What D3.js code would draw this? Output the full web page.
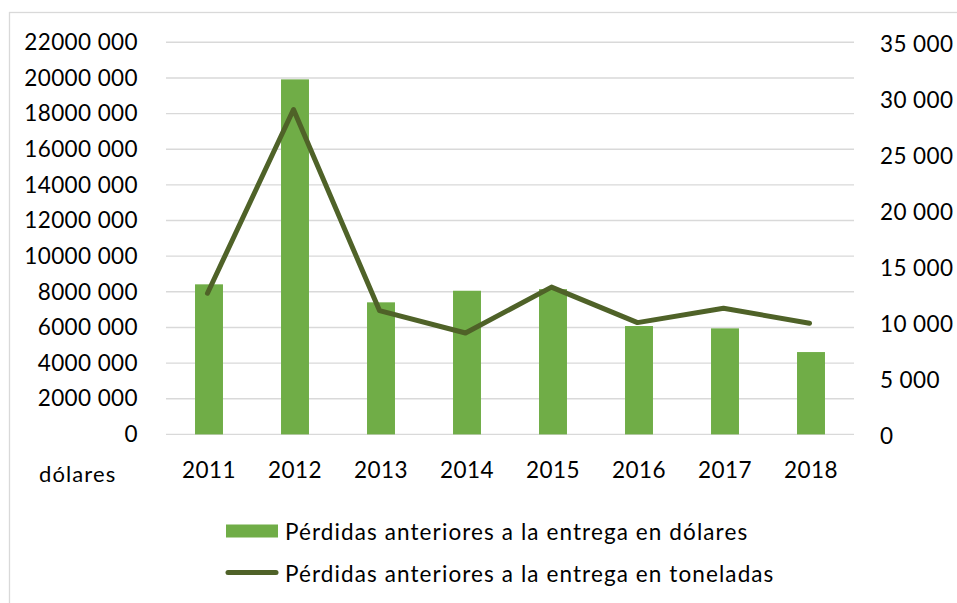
<!DOCTYPE html>
<html>
<head>
<meta charset="utf-8">
<script src="https://cdn.jsdelivr.net/npm/d3@7"></script>
<style>
  html, body { margin: 0; padding: 0; background: #fff; }
  svg { display: block; font-family: Lato, "Open Sans", sans-serif; }
</style>
</head>
<body>
<svg id="chart" width="957" height="603"></svg>
<script>
// ---- data ----
const years = ["2011", "2012", "2013", "2014", "2015", "2016", "2017", "2018"];
const dollars = [8420000, 19920000, 7410000, 8060000, 8150000, 6080000, 5950000, 4620000];
const tonnes = [12600, 29000, 11050, 9050, 13150, 9980, 11260, 9920];
const leftTicks = [0, 2000000, 4000000, 6000000, 8000000, 10000000, 12000000, 14000000, 16000000, 18000000, 20000000, 22000000];
const leftTickLabels = ["0", "2000 000", "4000 000", "6000 000", "8000 000", "10000 000", "12000 000", "14000 000", "16000 000", "18000 000", "20000 000", "22000 000"];
const rightTicks = [0, 5000, 10000, 15000, 20000, 25000, 30000, 35000];
const rightTickLabels = ["0", "5 000", "10 000", "15 000", "20 000", "25 000", "30 000", "35 000"];
const seriesNames = ["Pérdidas anteriores a la entrega en dólares", "Pérdidas anteriores a la entrega en toneladas"];
const unitLabel = "dólares";

// ---- layout ----
const svg = d3.select("#chart");
const plot = { left: 166, right: 854, top: 42.3, bottom: 434.4 };
const barColor = "#70AD47";
const lineColor = "#4F6228";
const gridColor = "#D9D9D9";
const fontSize = 22.5;

// outer border
svg.append("rect")
  .attr("x", 9.5).attr("y", 12.5)
  .attr("width", 960).attr("height", 620)
  .attr("fill", "none").attr("stroke", gridColor).attr("stroke-width", 1.3);

const x = d3.scaleBand().domain(years).range([plot.left, plot.right]).padding(0);
const yL = d3.scaleLinear().domain([0, 22000000]).range([plot.bottom, plot.top]);
const yR = d3.scaleLinear().domain([0, 35000]).range([plot.bottom, plot.top]);

// gridlines
svg.append("g").selectAll("line").data(leftTicks).join("line")
  .attr("x1", plot.left).attr("x2", plot.right)
  .attr("y1", d => yL(d)).attr("y2", d => yL(d))
  .attr("stroke", gridColor).attr("stroke-width", 1.4);

// left axis
const leftAxis = d3.axisLeft(yL).tickValues(leftTicks)
  .tickFormat((d, i) => leftTickLabels[i]).tickSize(0).tickPadding(0);
const gL = svg.append("g").attr("transform", "translate(138,0)").call(leftAxis);
gL.select(".domain").remove();
gL.selectAll("text").attr("font-size", fontSize).attr("font-family", "Lato").attr("fill", "#000")
  .attr("letter-spacing", 0.4);

// right axis
const rightAxis = d3.axisRight(yR).tickValues(rightTicks)
  .tickFormat((d, i) => rightTickLabels[i]).tickSize(0).tickPadding(0);
const gR = svg.append("g").attr("transform", "translate(880,1.5)").call(rightAxis);
gR.select(".domain").remove();
gR.selectAll("text").attr("font-size", fontSize).attr("font-family", "Lato").attr("fill", "#000")
  .attr("letter-spacing", 0.4);

// x axis labels
const xAxis = d3.axisBottom(x).tickSize(0).tickPadding(0);
const gX = svg.append("g").attr("transform", "translate(0,462)").call(xAxis);
gX.select(".domain").remove();
gX.selectAll("text").attr("font-size", fontSize).attr("font-family", "Lato").attr("fill", "#000")
  .attr("letter-spacing", 0.5).attr("dy", "0.72em");

// unit label
svg.append("text").attr("x", 39).attr("y", 481.5)
  .attr("font-size", 22).attr("letter-spacing", 1.1).attr("fill", "#000")
  .text(unitLabel);

// bars
const barW = x.bandwidth() * 0.325;
svg.append("g").selectAll("rect").data(dollars).join("rect")
  .attr("x", (d, i) => x(years[i]) + x.bandwidth() / 2 - barW / 2)
  .attr("y", d => yL(d))
  .attr("width", barW)
  .attr("height", d => plot.bottom - yL(d))
  .attr("fill", barColor);

// line
const line = d3.line()
  .x((d, i) => x(years[i]) + x.bandwidth() / 2 - 1.5)
  .y(d => yR(d));
svg.append("path").datum(tonnes)
  .attr("d", line)
  .attr("fill", "none").attr("stroke", lineColor)
  .attr("stroke-width", 5).attr("stroke-linejoin", "round").attr("stroke-linecap", "round");

// legend
const lg = svg.append("g");
lg.append("rect").attr("x", 226).attr("y", 524.5).attr("width", 52).attr("height", 13).attr("fill", barColor);
lg.append("text").attr("x", 285).attr("y", 539.5).attr("font-size", fontSize).attr("letter-spacing", 1.1)
  .attr("fill", "#000").text(seriesNames[0]);
lg.append("line").attr("x1", 228).attr("x2", 276).attr("y1", 572.5).attr("y2", 572.5)
  .attr("stroke", lineColor).attr("stroke-width", 5).attr("stroke-linecap", "round");
lg.append("text").attr("x", 285).attr("y", 582).attr("font-size", fontSize).attr("letter-spacing", 1.1)
  .attr("fill", "#000").text(seriesNames[1]);
</script>
</body>
</html>
